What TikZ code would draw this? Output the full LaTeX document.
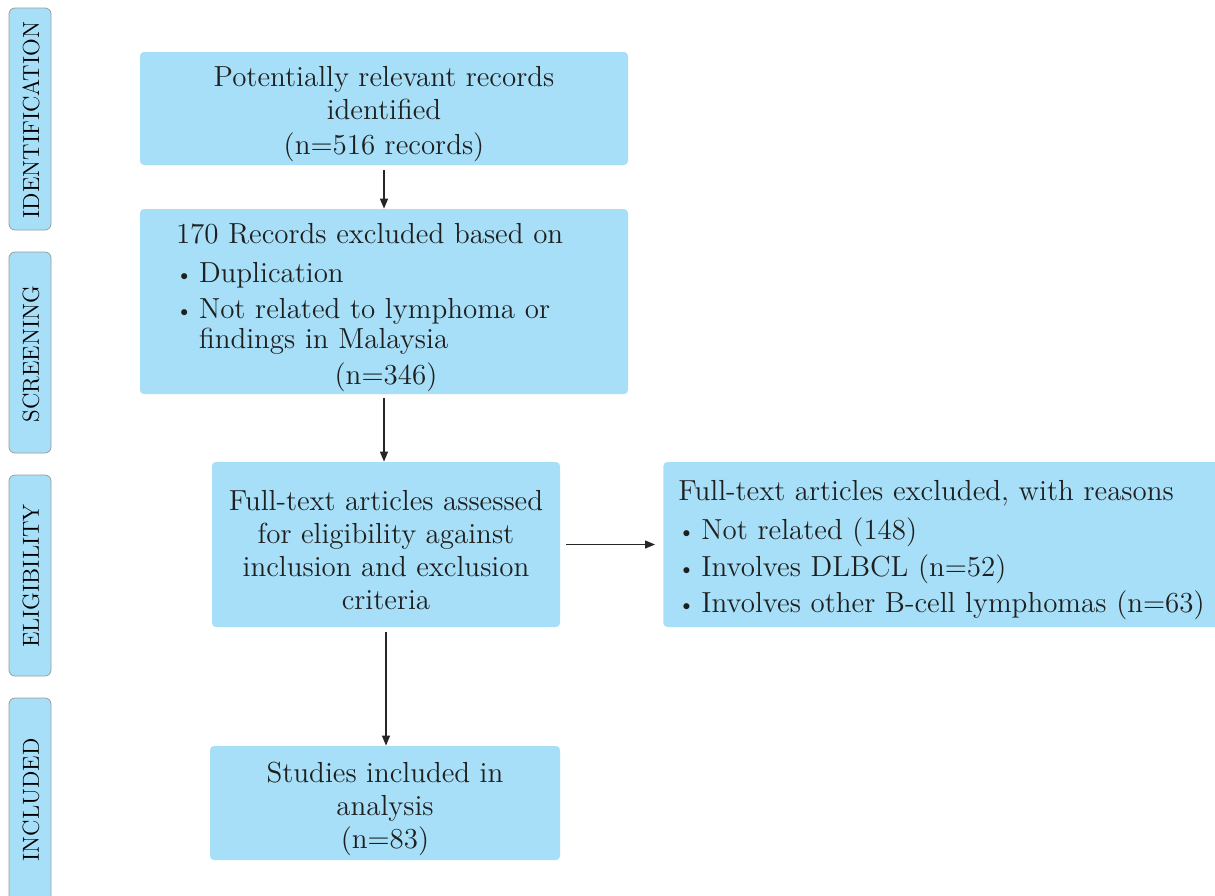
\documentclass[tikz,border=0pt]{standalone}
\usepackage{fontspec}
\usepackage{tikz}
\usetikzlibrary{arrows.meta,positioning}

\definecolor{prismablue}{HTML}{A6DFF7}
\definecolor{tabedge}{HTML}{9C9C9C}
\newcommand{\bodyfont}{\fontsize{14.5}{16.5}\selectfont}
\newcommand{\bul}{\makebox[11.5pt][l]{\raisebox{0.6pt}{\fontsize{10.5}{10.5}\selectfont\textbullet}}}
\newcommand{\topstrut}{\rule{0pt}{16pt}}

\tikzset{
  stagetab/.style={fill=prismablue, draw=tabedge, line width=0.4pt, rounded corners=3pt},
  stagelabel/.style={rotate=90, font=\fontsize{11.6}{13}\selectfont, text=black},
  flowbox/.style={fill=prismablue, rounded corners=2pt, align=center, font=\bodyfont,
    inner sep=0pt, text=black!88},
  flowarrow/.style={-{Triangle[length=5pt,width=4pt]}, line width=0.6pt, black!85}
}

\begin{document}
\begin{tikzpicture}[x=0.5pt,y=-0.5pt]
  \useasboundingbox (0,0) rectangle (1215,895);

  % stage tabs on the left
  \draw[stagetab] (9,8) rectangle (51,230);
  \draw[stagetab] (9,252) rectangle (51,453);
  \draw[stagetab] (9,475) rectangle (51,676);
  \draw[stagetab] (9,698) rectangle (51,910);
  \node[stagelabel] (lblident) at (31,120) {IDENTIFICATION};
  \node[stagelabel] (lblscreen) at (31,354) {SCREENING};
  \node[stagelabel] (lblelig) at (31,576) {ELIGIBILITY};
  \node[stagelabel] (lblincl) at (31,800) {INCLUDED};

  % flow boxes
  \node[flowbox, minimum width=244pt, minimum height=56.5pt] (records) at (384,108.5)
    {\topstrut Potentially relevant records\\ identified\\[1pt] (n=516 records)};
  \node[flowbox, minimum width=244pt, minimum height=92.5pt, text width=208pt,
    align=left, inner xsep=18pt] (screened) at (384,301.5)
    {\topstrut 170 Records excluded based on\\[3pt]
     \bul Duplication\\[1.5pt]
     \bul Not related to lymphoma or\\[-1.5pt]
     \hspace*{11.5pt}findings in Malaysia\\[1.5pt]
     \makebox[\linewidth]{\hspace*{2pt}(n=346)}};
  \node[flowbox, minimum width=174pt, minimum height=82.5pt] (eligible) at (386,544.5)
    {\topstrut Full-text articles assessed\\ for eligibility against\\ inclusion and exclusion\\ criteria};
  \node[flowbox, minimum width=280pt, minimum height=82.5pt, text width=265pt,
    align=left, inner xsep=6.5pt, anchor=west] (excluded) at (663,544.5)
    {\topstrut Full-text articles excluded, with reasons\\[3pt]
     \bul Not related (148)\\[2pt]
     \bul Involves DLBCL (n=52)\\[1.5pt]
     \bul Involves other B-cell lymphomas (n=63)};
  \node[flowbox, minimum width=175pt, minimum height=57pt] (included) at (385,803)
    {\topstrut Studies included in\\ analysis\\ (n=83)};

  % connectors
  \draw[flowarrow, shorten <=2.5pt] (records.south) -- (screened.north);
  \draw[flowarrow, shorten <=2pt] (screened.south) -- (screened.south |- eligible.north);
  \draw[flowarrow, shorten <=2.5pt] (eligible.south) -- (eligible.south |- included.north);
  \draw[flowarrow, shorten <=3pt, shorten >=4pt] (eligible.east) -- (excluded.west);
\end{tikzpicture}
\end{document}
